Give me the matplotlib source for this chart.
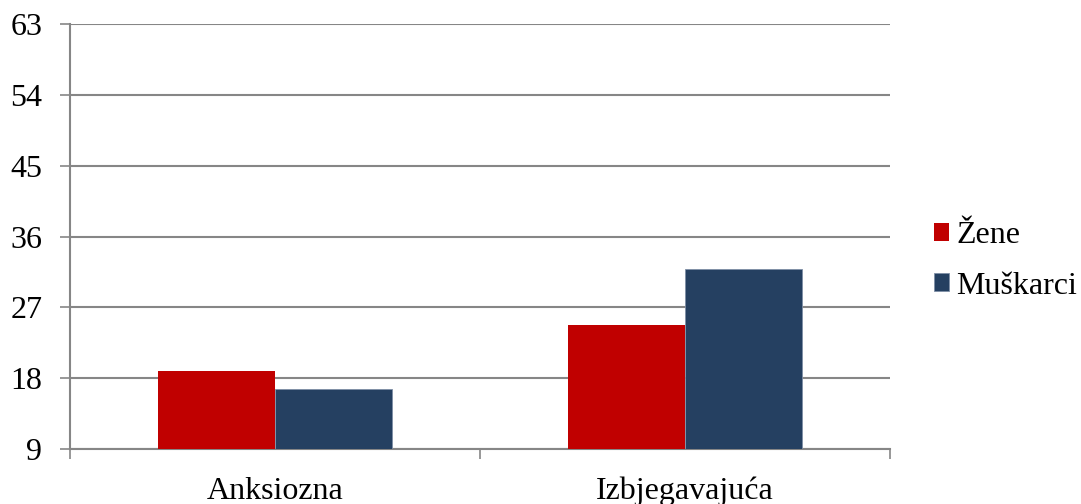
import matplotlib
matplotlib.use("Agg")
import matplotlib.pyplot as plt
import numpy as np

categories = ["Anksiozna", "Izbjegavajuća"]
series_names = ["Žene", "Muškarci"]
zene = [18.9, 24.8]
muskarci = [16.6, 31.9]
yticks = [9, 18, 27, 36, 45, 54, 63]

plt.rcParams['font.family'] = ['Liberation Serif', 'DejaVu Serif']
fig = plt.figure(figsize=(10.81, 5.04), dpi=100)
ax = fig.add_axes([70/1081, 1-449/504, 820/1081, 425/504])

x = np.arange(len(categories))
w = 0.285
grid_c = '#868686'
fs = 23
ax.bar(x - w/2, zene, w, color='#C00000', label=series_names[0], zorder=3)
ax.bar(x + w/2, muskarci, w, color='#254061', label=series_names[1], zorder=3,
       edgecolor='#7f8fa6', linewidth=0.6)

ax.set_ylim(9, 63)
ax.set_xlim(-0.5, len(categories) - 0.5)
ax.set_yticks(yticks)
ax.set_yticklabels([str(t) for t in yticks], fontsize=fs)
ax.yaxis.grid(True, color=grid_c, linewidth=1.5, zorder=0)
ax.set_axisbelow(True)

ax.set_xticks(np.arange(-0.5, len(categories), 1.0))
ax.set_xticklabels([])
ax.set_xticks(x, minor=True)
ax.set_xticklabels(categories, minor=True, fontsize=fs)
ax.tick_params(axis='x', which='minor', length=0, pad=20)
ax.tick_params(axis='x', which='major', length=7, color=grid_c, width=1.2)
ax.tick_params(axis='y', length=7, color=grid_c, width=1.2, pad=13)

for s in ['top', 'right']:
    ax.spines[s].set_visible(False)
for s in ['left', 'bottom']:
    ax.spines[s].set_color(grid_c)
    ax.spines[s].set_linewidth(1.5)

leg = fig.legend(loc='center left', bbox_to_anchor=(934/1081, 1-261/504), frameon=False,
                 fontsize=fs, handlelength=0.47, handleheight=0.47, handletextpad=0.22,
                 labelspacing=0.66, borderpad=0, borderaxespad=0)

fig.savefig('out.png', dpi=100)
